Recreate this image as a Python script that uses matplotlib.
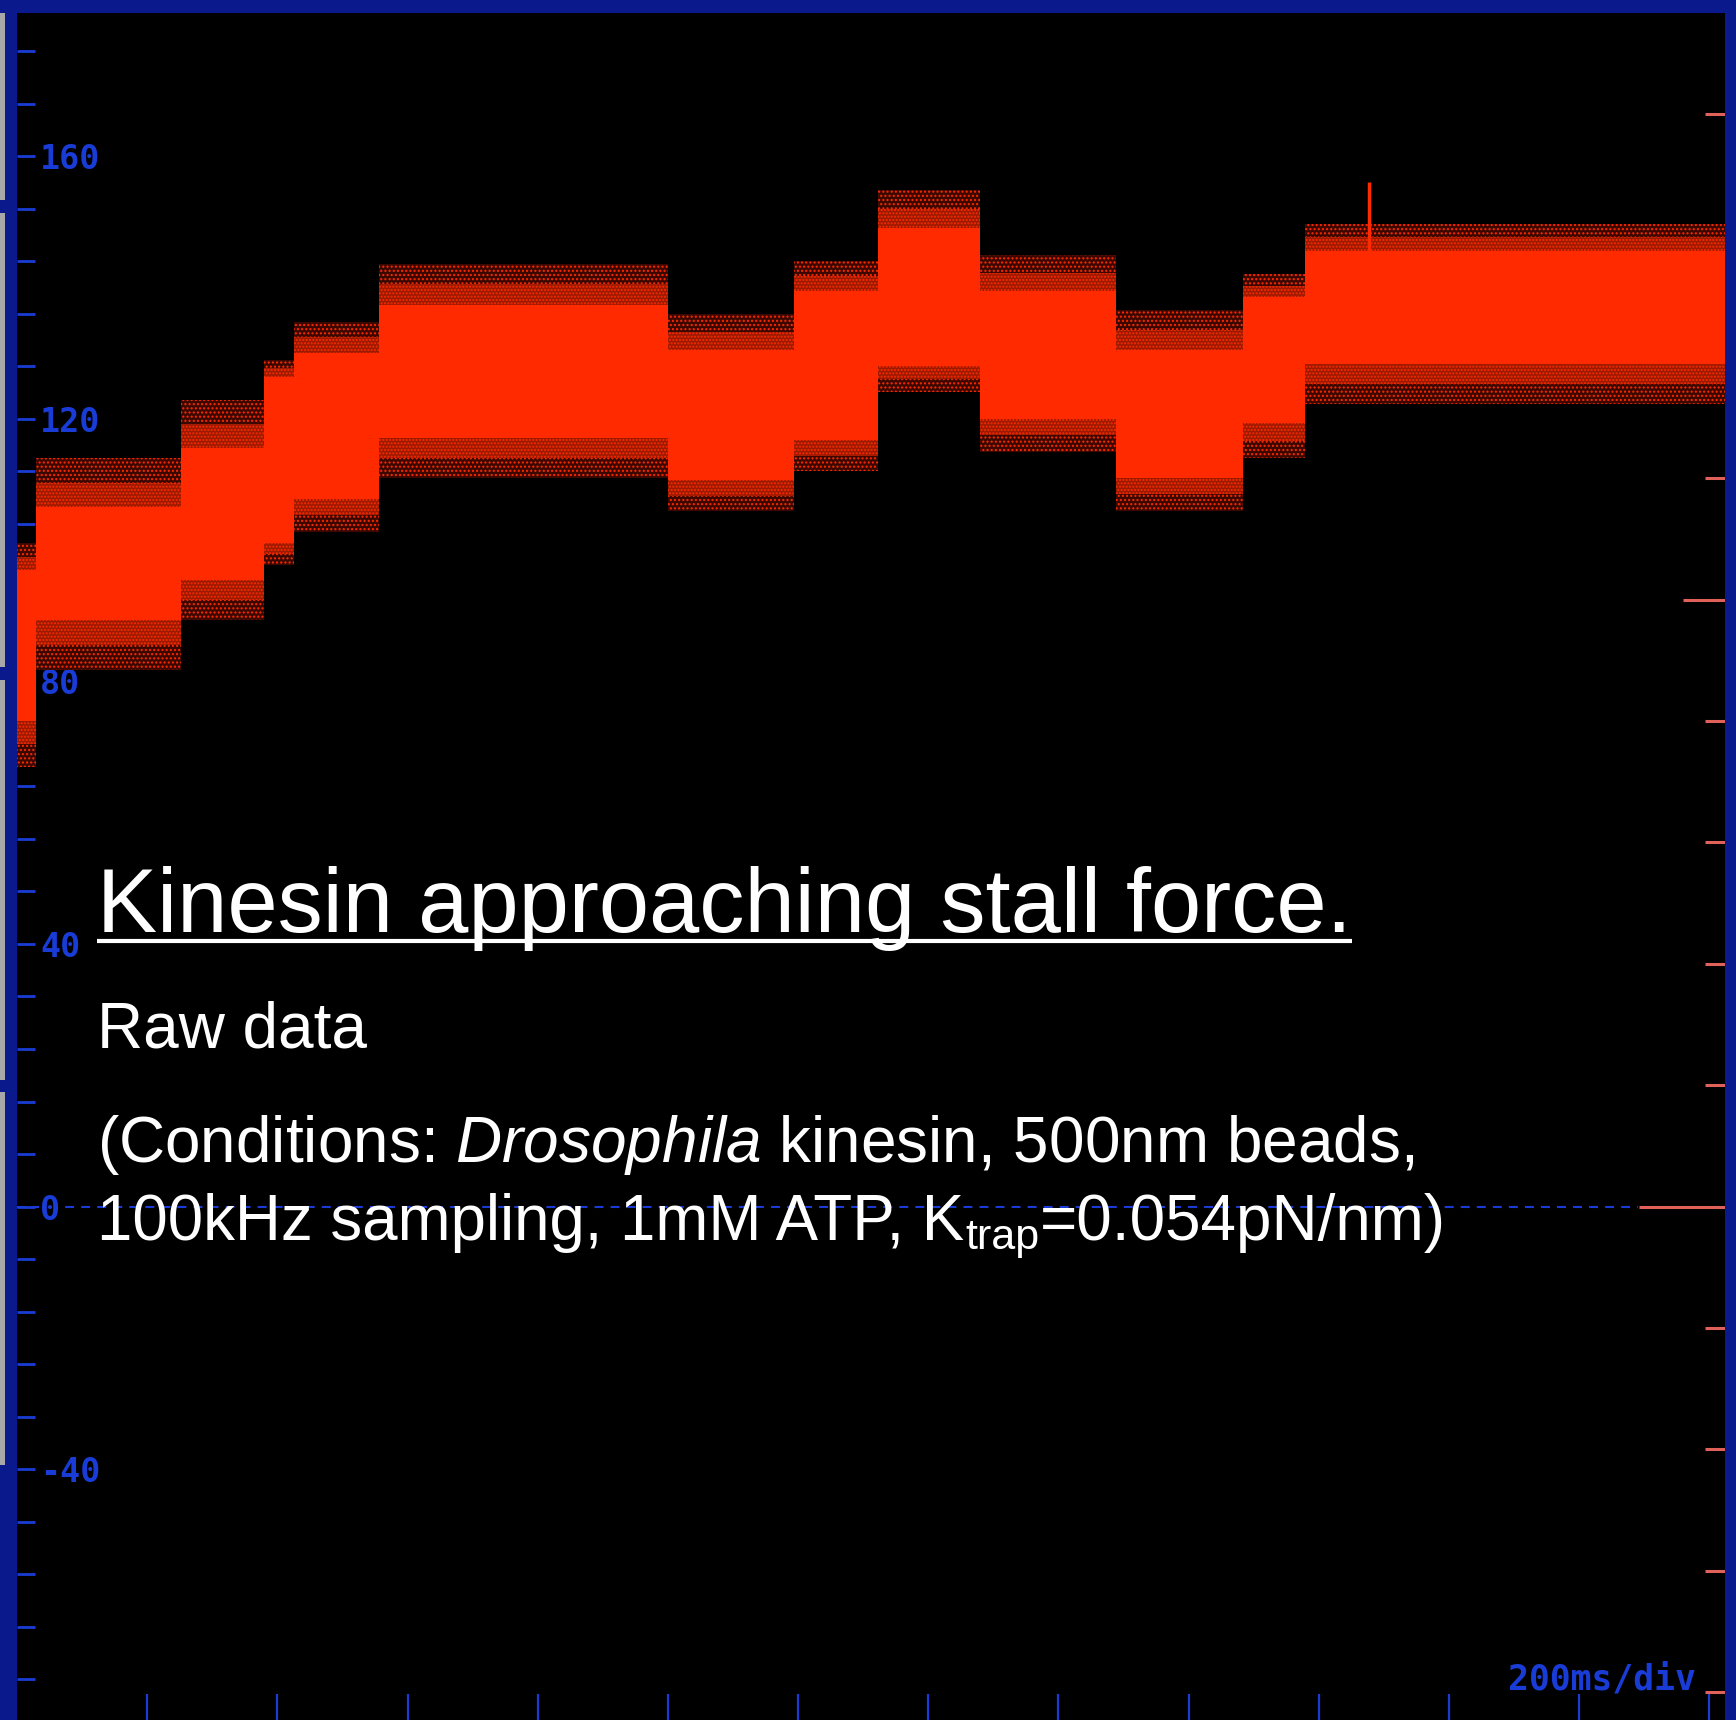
import numpy as np
import matplotlib
matplotlib.use("Agg")
import matplotlib.pyplot as plt
from matplotlib.patches import Rectangle
from matplotlib.lines import Line2D
from matplotlib.transforms import IdentityTransform

plt.rcParams['mathtext.fontset'] = 'custom'
plt.rcParams['mathtext.rm'] = 'Liberation Sans'
plt.rcParams['mathtext.it'] = 'Liberation Sans:italic'
plt.rcParams['hatch.linewidth'] = 1.0

# ---- data ----
# step boundaries of the trace, ms
step_edges_ms = [0, 29, 252, 379, 425, 556, 1000, 1194, 1323, 1480, 1689, 1883, 1978, 2624]
# dense core of the noisy band (nm)
core_top = [97, 106.5, 115.6, 126.4, 130.0, 137.4, 130.4, 139.5, 149.0, 139.5, 130.4, 138.5, 145.6]
core_bot = [74, 89.3, 95.4, 101.0, 107.8, 117.0, 110.6, 116.7, 128.0, 120.0, 111.0, 119.3, 128.4]
# outer extent of scattered points
speck_top = [101, 114.0, 122.8, 129.0, 134.8, 143.6, 136.0, 144.0, 154.8, 145.0, 136.5, 142.0, 149.7]
speck_bot = [67, 81.7, 89.3, 97.7, 102.8, 111.0, 106.0, 112.0, 124.0, 115.0, 106.0, 114.0, 122.3]
spike_t_ms = 2077
spike_range = [145.6, 156.0]

ytick_major = [-40, 0, 40, 80, 120, 160]
ytick_labels = ["-40", "0", "40", "80", "120", "160"]
ytick_minor_step = 8
xtick_ms = [200, 400, 600, 800, 1000, 1200, 1400, 1600, 1800, 2000, 2200, 2400, 2600]
right_scale = 18.49          # left units per right-hand division
right_minor = list(range(-4, 10))
right_major = [0, 5]

title = "Kinesin approaching stall force."
sub1 = "Raw data"
cond1 = r"(Conditions: $\it{Drosophila}$ kinesin, 500nm beads,"
cond2_a = "100kHz sampling, 1mM ATP, K"
cond2_sub = "trap"
cond2_b = "=0.054pN/nm)"
timebase = "200ms/div"

# ---- layout ----
W, H = 1736, 1720
RED = '#ff2a00'
BLUE_T = '#1a3cd6'
NAVY = '#0a198c'
SALMON = '#e0605a'

fig = plt.figure(figsize=(W / 100, H / 100), dpi=100, facecolor='black')
ax = fig.add_axes([17 / W, 0, (1725 - 17) / W, (1720 - 13) / H])
ax2 = ax.twinx()
ax.set_zorder(ax2.get_zorder() + 1)
ax.patch.set_visible(False)
ax2.set_facecolor('black')

ylo, yhi = -78.2, 181.8
ax.set_ylim(ylo, yhi)
ax.set_xlim(0, 2624)
ax2.set_ylim(ylo / right_scale, yhi / right_scale)

for a in (ax, ax2):
    for s in a.spines.values():
        s.set_visible(False)

# band
xe = np.array(step_edges_ms, dtype=float)
def ext(v):
    return np.append(np.asarray(v, dtype=float), v[-1])
st, sb, ct, cb = ext(speck_top), ext(speck_bot), ext(core_top), ext(core_bot)
mt, mb = (st + ct) / 2, (sb + cb) / 2
ax.fill_between(xe, sb, st, step='post',
                facecolor='#3a0800', edgecolor=RED, hatch='....', linewidth=0, zorder=2)
ax.fill_between(xe, mb, mt, step='post',
                facecolor='#9a1a00', edgecolor=RED, hatch='.....', linewidth=0, zorder=2.5)
ax.fill_between(xe, cb, ct, step='post',
                facecolor=RED, edgecolor='none', linewidth=0, zorder=3)
ax.vlines(spike_t_ms, spike_range[0], spike_range[1], color=RED, lw=2.5, zorder=3)

# zero dashed line
ax.axhline(0, xmin=0, xmax=0.949, color=BLUE_T, lw=1.5, ls=(0, (4.3, 3.4)), zorder=1)

# left ticks
ax.set_yticks(ytick_major)
ax.set_yticklabels(ytick_labels)
ax.set_yticks(np.arange(-72, 181, ytick_minor_step), minor=True)
ax.tick_params(axis='y', which='both', direction='in', length=13, width=2,
               color=BLUE_T, left=True, right=False)
ax.tick_params(axis='y', which='major', pad=-16.6, labelcolor=BLUE_T, labelsize=24)
for lab in ax.get_yticklabels():
    lab.set_ha('left')
    lab.set_fontfamily('DejaVu Sans Mono')
    lab.set_fontweight('bold')
    if lab.get_text() == "0":
        lab.set_bbox(dict(facecolor='black', edgecolor='none', pad=1))

# bottom ticks
ax.set_xticks(xtick_ms)
ax.tick_params(axis='x', which='both', direction='in', length=18.7, width=1.6,
               color=BLUE_T, labelbottom=False, top=False)

# right ticks
ax2.set_yticks(right_major)
ax2.set_yticks(right_minor, minor=True)
ax2.set_yticklabels([])
ax2.tick_params(axis='y', which='minor', direction='in', length=14.4, width=2.2,
                color=SALMON, right=True, left=False)
ax2.tick_params(axis='y', which='major', direction='in', length=30, width=2.2,
                color=SALMON, right=True, left=False, labelright=False)
ax2.tick_params(axis='x', which='both', bottom=False, top=False, labelbottom=False)
for tk in ax2.yaxis.get_major_ticks():
    if abs(tk.get_loc()) < 1e-9:
        tk.tick2line.set_markersize(62)

ax.text(0.983, 0.018, timebase, transform=ax.transAxes, ha='right', va='baseline',
        color=BLUE_T, fontsize=25, family='DejaVu Sans Mono', fontweight='bold')

# frame bars
def px_rect(x0, y0, w, h, color):
    fig.patches.append(Rectangle((x0 / W, 1 - (y0 + h) / H), w / W, h / H,
                                 transform=fig.transFigure, facecolor=color,
                                 edgecolor='none', zorder=10))
px_rect(0, 0, W, 13, NAVY)
px_rect(1725, 0, 11, H, NAVY)
px_rect(0, 0, 17, H, NAVY)
for (g0, g1) in [(13, 200), (213, 667), (680, 1080), (1092, 1465)]:
    px_rect(0, g0, 5, g1 - g0, '#a8a8a8')

# text
tkw = dict(color='white', family='Liberation Sans', va='baseline', ha='left')
t = fig.text(97 / W, 1 - 932 / H, title, fontsize=65, **tkw)
fig.text(97 / W, 1 - 1048 / H, sub1, fontsize=46, **tkw)
fig.text(97 / W, 1 - 1162 / H, cond1, fontsize=46, **tkw)
ta = fig.text(97 / W, 1 - 1240 / H, cond2_a, fontsize=45.8, **tkw)

fig.canvas.draw()
r = fig.canvas.get_renderer()
bba = ta.get_window_extent(r)
ts = fig.text((bba.x1 + 1) / W, (H - 1249) / H, cond2_sub, fontsize=31, **tkw)
fig.canvas.draw()
bbs = ts.get_window_extent(r)
fig.text((bbs.x1 + 1) / W, 1 - 1240 / H, cond2_b, fontsize=46, **tkw)

bb = t.get_window_extent(r)
uy = H - 941
fig.lines.append(Line2D([bb.x0, bb.x1], [uy, uy], transform=IdentityTransform(),
                        color='white', lw=3, solid_capstyle='butt'))

fig.savefig('out.png', dpi=100, facecolor='black')
